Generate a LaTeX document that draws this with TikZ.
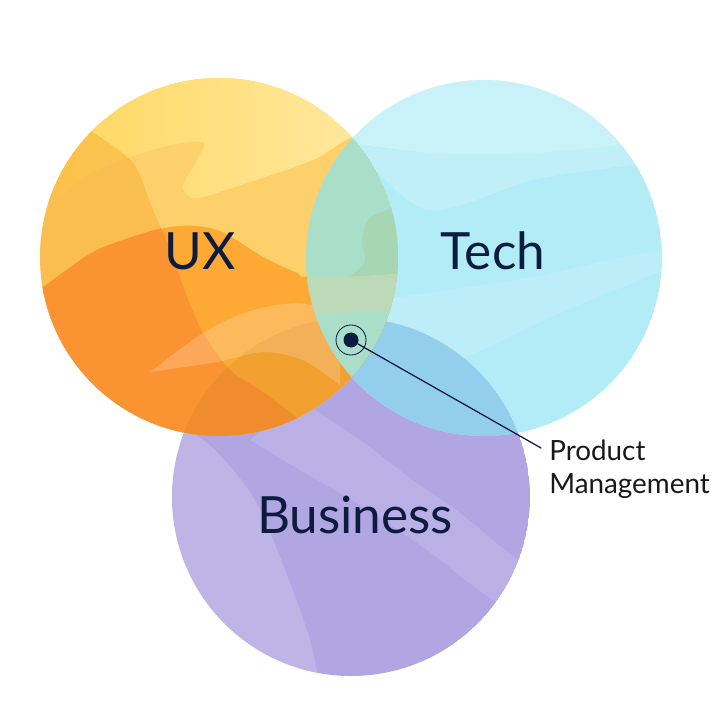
\documentclass[tikz,border=0pt]{standalone}
\usepackage{fontspec}
\setmainfont{Lato}
\usetikzlibrary{positioning}

\tikzset{
  setlabel/.style={text=navy,anchor=base,font=\fontsize{36.5}{40}\selectfont},
  lighten/.style={fill=white,fill opacity=#1},
}

\begin{document}
\begin{tikzpicture}[line cap=round,line join=round,x=0.025cm,y=-0.025cm]
\definecolor{navy}{rgb}{0.043,0.11,0.247}
\definecolor{busbase}{rgb}{0.698,0.651,0.886}
\definecolor{techbase}{rgb}{0.698,0.925,0.965}
\definecolor{tbblue}{rgb}{0.576,0.812,0.925}
\definecolor{uxlight}{rgb}{0.992,0.816,0.42}
\definecolor{uxyellow}{rgb}{1,0.839,0.353}
\definecolor{uxpale}{rgb}{1,0.925,0.667}
\definecolor{uxstrip}{rgb}{0.973,0.651,0.188}
\definecolor{uxmid}{rgb}{0.992,0.663,0.204}
\definecolor{uxorange}{rgb}{0.98,0.576,0.192}
\definecolor{utgreen}{rgb}{0.663,0.871,0.788}
\definecolor{utdark}{rgb}{0.651,0.839,0.698}
\definecolor{utolive}{rgb}{0.737,0.851,0.722}
\useasboundingbox (0,0) rectangle (720,720);
\coordinate (uxc) at (219,257);
\coordinate (techc) at (484,258);
\coordinate (busc) at (351,497);
% business
\begin{scope}
\clip (busc) circle[radius=179];
\fill[busbase] (busc) circle[radius=179];
\fill[lighten=0.16] plot[smooth] coordinates {(175,420) (215,450) (255,500) (285,570) (310,640) (320,690)} -- (150,700) -- (150,420) -- cycle;
\fill[lighten=0.12] plot[smooth] coordinates {(300,400) (360,440) (410,478) (460,513) (513,556) (570,590)} -- (570,640) -- plot[smooth] coordinates {(570,640) (493,600) (427,550) (360,505) (300,470) (250,440)} -- cycle;
\end{scope}
% tech
\begin{scope}
\clip (techc) circle[radius=178];
\fill[techbase] (techc) circle[radius=178];
\fill[lighten=0.3] plot[smooth] coordinates {(300,150) (353,145) (433,153) (533,153) (620,145) (680,138)} -- (680,60) -- (300,60) -- cycle;
\fill[lighten=0.2] plot[smooth] coordinates {(353,145) (433,153) (533,153) (620,145) (680,138)} -- (690,160) -- plot[smooth] coordinates {(690,160) (633,165) (533,180) (427,210) (353,145)} -- cycle;
\fill[lighten=0.15] plot[smooth] coordinates {(340,305) (400,297) (533,277) (600,262) (670,248)} -- (670,268) -- plot[smooth] coordinates {(670,268) (567,310) (467,357) (400,387) (340,395)} -- cycle;
\end{scope}
\begin{scope}
\clip (techc) circle[radius=178];
\clip (busc) circle[radius=179];
\fill[tbblue] (busc) circle[radius=179];
\end{scope}
% ux
\begin{scope}
\clip (uxc) circle[radius=179];
\fill[uxlight] (uxc) circle[radius=179];
\shade[left color=uxyellow,right color=uxpale] plot[smooth] coordinates {(30,215) (43,210) (97,170) (163,147) (203,142) (197,160) (183,187) (197,198) (247,183) (313,160) (350,138) (420,110)} -- (420,60) -- (30,60) -- cycle;
\fill[uxstrip,fill opacity=0.45] plot[smooth] coordinates {(80,120) (93,132) (133,163) (153,210) (173,257) (187,297) (203,333) (230,370) (263,392) (300,420)} -- (300,460) -- (20,460) -- (20,120) -- cycle;
\fill[uxmid] plot[smooth] coordinates {(30,292) (43,287) (97,250) (170,227) (217,230) (263,257) (297,273) (310,277) (420,272)} -- (420,460) -- (30,460) -- cycle;
\fill[uxorange] plot[smooth] coordinates {(30,292) (43,287) (97,250) (161,228)} -- plot[smooth] coordinates {(161,228) (173,257) (187,297) (203,333) (230,370) (263,392) (300,420)} -- (300,460) -- (20,460) -- cycle;
\fill[lighten=0.2] plot[smooth] coordinates {(150,372) (203,333) (247,312) (297,303) (340,312)} -- (340,385) -- plot[smooth] coordinates {(340,385) (303,360) (263,352) (217,362) (150,372)} -- cycle;
\end{scope}
\begin{scope}
\clip (uxc) circle[radius=179];
\clip (busc) circle[radius=179];
\fill[black,fill opacity=0.045] (busc) circle[radius=179];
\end{scope}
\begin{scope}
\clip (uxc) circle[radius=179];
\clip (techc) circle[radius=178];
\fill[utgreen] (uxc) circle[radius=179];
\fill[utdark] plot[smooth] coordinates {(400,205) (370,218) (362,240) (365,262) (350,276)} -- (420,277) -- (420,205) -- cycle;
\fill[utolive] plot[smooth] coordinates {(300,277) (360,276) (420,272)} -- (420,308) -- plot[smooth] coordinates {(420,308) (360,312) (300,316)} -- cycle;
\end{scope}
% labels
\node[setlabel] (ux) at (200,270) {UX};
\node[setlabel] (tech) at (493,270) {Tech};
\node[setlabel] (business) at (355,533) {Business};
\node[circle,fill=navy,inner sep=0pt,minimum size=0.375cm] (pm) at (351,340) {};
\node[circle,draw=navy,line width=0.6pt,inner sep=0pt,minimum size=0.75cm] (pmring) at (pm) {};
\coordinate (pmend) at (541,448);
\node[anchor=base west,align=left,inner sep=0pt,text=black!90,font=\fontsize{19.8}{23}\selectfont] (pmlabel) at (549,493) {Product\\Management};
\draw[navy,line width=0.9pt] (pm) -- (pmend);
\end{tikzpicture}
\end{document}
